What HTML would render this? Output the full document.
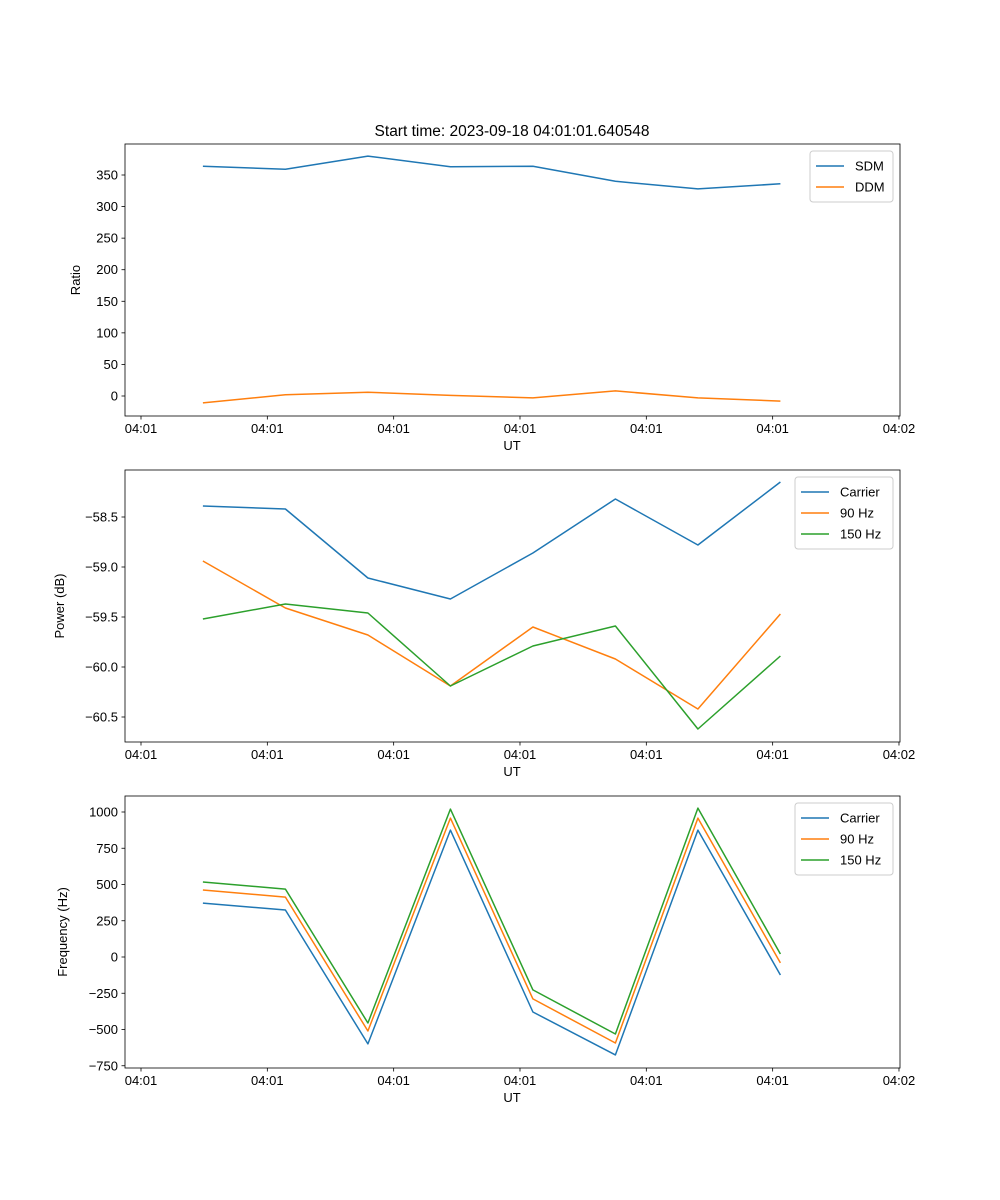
<!DOCTYPE html>
<html><head><meta charset="utf-8"><style>
body{margin:0;background:#fff;}
svg{display:block;font-family:"Liberation Sans","DejaVu Sans",sans-serif;}
</style></head><body>
<svg id="fig" width="1000" height="1200"></svg>
<script>
const xTickLabels=["04:01","04:01","04:01","04:01","04:01","04:01","04:02"];
const xTickValues=[0,1,2,3,4,5,6];
const times=[0.49,1.143,1.796,2.449,3.102,3.755,4.408,5.061];
const sdm=[364,359,380,363,364,340,328,336];
const ddm=[-11,2,6,1,-3,8,-3,-8];
const pCarrier=[-58.39,-58.42,-59.11,-59.32,-58.86,-58.32,-58.78,-58.15];
const p90=[-58.94,-59.41,-59.68,-60.19,-59.6,-59.92,-60.42,-59.47];
const p150=[-59.52,-59.37,-59.46,-60.19,-59.79,-59.59,-60.62,-59.89];
const fCarrier=[372,324,-599,875,-379,-675,875,-124];
const f90=[462,413,-510,958,-289,-593,958,-41];
const f150=[517,468,-455,1020,-227,-531,1027,21];
const ratioTicks=[0,50,100,150,200,250,300,350];
const powerTicks=[-60.5,-60.0,-59.5,-59.0,-58.5];
const powerTickLabels=["−60.5","−60.0","−59.5","−59.0","−58.5"];
const freqTicks=[-750,-500,-250,0,250,500,750,1000];
const freqTickLabels=["−750","−500","−250","0","250","500","750","1000"];

const NS="http://www.w3.org/2000/svg";
const svg=document.getElementById('fig');
function el(tag,attrs,parent,text){const e=document.createElementNS(NS,tag);for(const k in attrs)e.setAttribute(k,attrs[k]);if(text!==undefined)e.textContent=text;(parent||svg).appendChild(e);return e;}
const L=125,R=900;
const xScale=v=>141+v*126.33;
function panel(name,top,bottom,yv,ypx,ticks,tlabels,ylabel,ylabelX,series,legend){
  const yScale=v=>ypx[0]+(v-yv[0])*(ypx[1]-ypx[0])/(yv[1]-yv[0]);
  const g=el('g',{},svg);
  
  
  series.forEach(s=>{
    const pts=times.map((t,i)=>xScale(t).toFixed(1)+','+yScale(s.vals[i]).toFixed(1)).join(' ');
    const p=el('polyline',{points:pts,fill:'none',stroke:s.color,'stroke-width':1.5,'stroke-linejoin':'round'},g);
    
    
  });
  const f=el('rect',{x:L,y:top,width:R-L,height:bottom-top,fill:'none',stroke:'#000','stroke-width':0.8},g);
  
  
  xTickValues.forEach((v,i)=>{
    const x=xScale(v);
    el('line',{x1:x,x2:x,y1:bottom,y2:bottom+3.5,stroke:'#000','stroke-width':0.8},g);
    const t=el('text',{x:x,y:bottom+17,'font-size':13,'text-anchor':'middle'},g,xTickLabels[i]);
    
    
  });
  ticks.forEach((v,i)=>{
    const y=yScale(v);
    el('line',{x1:L,x2:L-3.5,y1:y,y2:y,stroke:'#000','stroke-width':0.8},g);
    const t=el('text',{x:L-7,y:y+4.5,'font-size':13,'text-anchor':'end'},g,tlabels[i]);
    
    
  });
  const xt=el('text',{x:512,y:bottom+34,'font-size':13,'text-anchor':'middle'},g,'UT');
  
  
  const cy=(top+bottom)/2;
  const yt=el('text',{x:ylabelX,y:cy,'font-size':13,'text-anchor':'middle',transform:`rotate(-90 ${ylabelX} ${cy})`},g,ylabel);
  
  
  const lg=el('g',{},g);
  
  
  el('rect',{x:legend.x,y:top+7,width:R-7-legend.x,height:series.length*21+9,rx:3,fill:'#fff',stroke:'#ccc','stroke-width':1},lg);
  series.forEach((s,i)=>{
    const y=top+22+i*21;
    el('line',{x1:legend.x+6,x2:legend.x+34,y1:y,y2:y,stroke:s.color,'stroke-width':1.5},lg);
    const t=el('text',{x:legend.x+45,y:y+4.5,'font-size':13},lg,s.label);
    
    
  });
}
const c1='#1f77b4',c2='#ff7f0e',c3='#2ca02c';
panel('ratio-panel',144,416,[0,350],[396,175],ratioTicks,ratioTicks.map(String),'Ratio',80,
  [{name:'sdm',label:'SDM',color:c1,vals:sdm},{name:'ddm',label:'DDM',color:c2,vals:ddm}],{x:810});
panel('power-panel',470,742,[-58.5,-60.5],[517,717],powerTicks,powerTickLabels,'Power (dB)',64,
  [{name:'carrier',label:'Carrier',color:c1,vals:pCarrier},{name:'90hz',label:'90 Hz',color:c2,vals:p90},{name:'150hz',label:'150 Hz',color:c3,vals:p150}],{x:795});
panel('frequency-panel',796,1068,[0,1000],[957,812],freqTicks,freqTickLabels,'Frequency (Hz)',67,
  [{name:'carrier',label:'Carrier',color:c1,vals:fCarrier},{name:'90hz',label:'90 Hz',color:c2,vals:f90},{name:'150hz',label:'150 Hz',color:c3,vals:f150}],{x:795});
const title=el('text',{x:512,y:136,'font-size':15.5,'text-anchor':'middle'},svg,'Start time: 2023-09-18 04:01:01.640548');


</script>
</body></html>
